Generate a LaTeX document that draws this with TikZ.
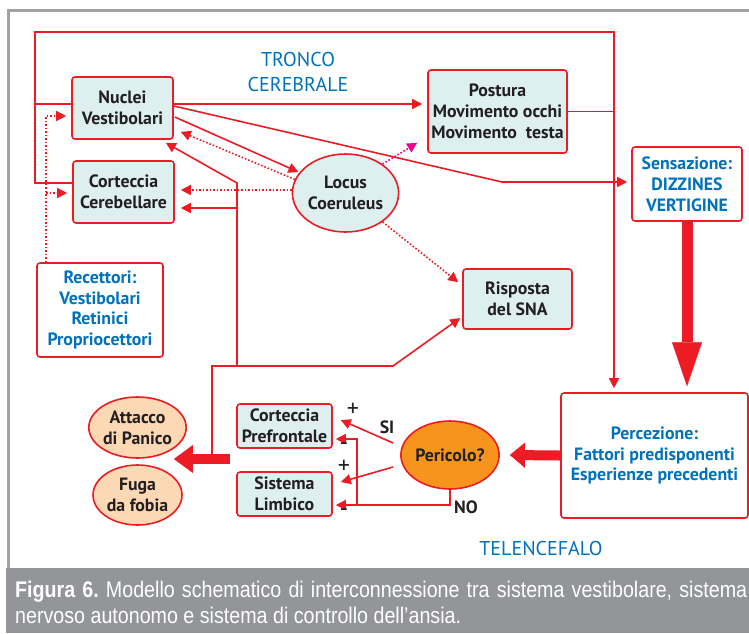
\documentclass[tikz,border=0pt]{standalone}
\usepackage{fontspec}
\setmainfont{PT Sans}
\newfontfamily\capfont{Liberation Sans}[FakeStretch=0.87]
\usetikzlibrary{arrows.meta,shapes.geometric,calc}
\definecolor{linered}{RGB}{237,28,36}
\definecolor{boxfill}{RGB}{221,239,239}
\definecolor{labelblue}{RGB}{0,114,188}
\definecolor{textdark}{RGB}{35,31,32}
\definecolor{dangerorange}{RGB}{247,148,29}
\definecolor{peach}{RGB}{252,216,180}
\definecolor{pinkline}{RGB}{236,0,140}
\definecolor{framegray}{RGB}{160,161,164}
\definecolor{bandgray}{RGB}{147,149,152}

\begin{document}
\frenchspacing
\begin{tikzpicture}[x=1pt,y=-1pt,
  every node/.style={inner sep=0pt, align=center},
  boldtext/.style={font=\fontsize{17.8}{20.8}\selectfont\bfseries},
  box/.style={boldtext, draw=linered, line width=1.6pt, rounded corners=3pt,
    fill=boxfill, text=textdark},
  bluebox/.style={box, fill=white, text=labelblue},
  oval/.style={boldtext, ellipse, draw=linered, line width=1.6pt, text=textdark},
  link/.style={draw=linered, line width=1.6pt},
  dotlink/.style={link, dash pattern=on 1.6pt off 1.9pt},
  arrowto/.style={-{Triangle[length=10pt,width=10pt]}},
  fat/.style={draw=linered, line width=11pt,
    -{Triangle[length=44pt,width=30pt,line width=0.1pt]}},
  fatmid/.style={draw=linered, line width=10pt,
    -{Triangle[length=19pt,width=28pt,line width=0.1pt]}},
  fatsmall/.style={draw=linered, line width=10pt,
    -{Triangle[length=15pt,width=25pt,line width=0.1pt]}},
  region/.style={font=\fontsize{20}{25}\selectfont, text=labelblue},
  sign/.style={font=\fontsize{24}{24}\selectfont, text=textdark},
  captext/.style={anchor=base west, text=white, font=\capfont\fontsize{22.6}{26}\selectfont}
]
\useasboundingbox (0,0) rectangle (749,633);

% page frame and caption band
\fill[bandgray] (6,568) rectangle (760,633);
\draw[framegray, line width=3pt] (8.5,568) -- (8.5,10.8) -- (760,10.8);

% region labels
\node[region] (tronco) at (298,72) {TRONCO\\CEREBRALE};
\node[region] (telen) at (541,548) {TELENCEFALO};

% boxes
\node[box, minimum width=101pt, minimum height=62pt] (nuc) at (122.5,108) {Nuclei\\Vestibolari};
\node[box, minimum width=101pt, minimum height=62pt] (cor) at (123.5,192) {Corteccia\\Cerebellare};
\node[box, minimum width=139pt, minimum height=83pt] (post) at (497.5,111.5) {Postura\\Movimento occhi\\Movimento~ testa};
\node[bluebox, minimum width=110pt, minimum height=74pt] (sens) at (687,184) {Sensazione:\\DIZZINES\\VERTIGINE};
\node[oval, fill=boxfill, minimum width=98pt, minimum height=78pt] (loc) at (345.5,193) {Locus\\Coeruleus};
\node[box, minimum width=109pt, minimum height=60pt] (risp) at (517.5,299) {Risposta\\del SNA};
\node[bluebox, minimum width=126pt, minimum height=94pt] (rec) at (100,310) {Recettori:\\Vestibolari\\Retinici\\Propriocettori};
\node[bluebox, minimum width=187pt, minimum height=125pt] (perc) at (654.5,455.5) {Percezione:\\Fattori predisponenti\\Esperienze precedenti};
\node[oval, fill=dangerorange, minimum width=96pt, minimum height=68pt] (peri) at (450,455) {Pericolo?};
\node[box, minimum width=95pt, minimum height=44pt] (pref) at (284.5,426) {Corteccia\\Prefrontale};
\node[box, minimum width=95pt, minimum height=44pt] (limb) at (284.5,494) {Sistema\\Limbico};
\node[oval, fill=peach, minimum width=89pt, minimum height=61pt] (att) at (137.5,427.5) {Attacco\\di Panico};
\node[oval, fill=peach, minimum width=89pt, minimum height=60pt] (fuga) at (137.5,495) {Fuga\\da fobia};

% brainstem loop towards perception
\coordinate (lpA) at (35,104);
\coordinate (lpB) at (35,32);
\coordinate (lpC) at (614,32);
\coordinate (lpD) at (35,183);
\draw[link, arrowto] (nuc.west |- lpA) -- (lpA) -- (lpB) -- (lpC) -- ($(perc.north -| lpC)+(0,-4)$);
\draw[link] (cor.west |- lpD) -- (lpD) -- (lpA);
\draw[draw=pinkline, line width=1.2pt] (post.east) -- (post.east -| lpC);

% vestibular nuclei outputs
\draw[link, arrowto, shorten >=5pt] (nuc.east |- lpA) -- (post.west |- lpA);
\coordinate (bend) at (502,182);
\draw[link, arrowto] ($(nuc.east)+(0,-2)$) -- (bend) -- ($(sens.west |- bend)+(-4,0)$);
\draw[link, arrowto, shorten >=1pt] ($(nuc.east)+(1,9)$) -- (loc);

% locus coeruleus outputs
\draw[dotlink, arrowto] (loc.165) -- ($(nuc.south east)+(7,-8)$);
\draw[dotlink, arrowto] ($(loc.west)+(0,-3)$) -- ($(cor.east)+(6,-2)$);
\draw[dotlink, draw=pinkline, arrowto] (loc.38) -- ($(post.south west)+(-10,-11)$);
\draw[dotlink, arrowto] (loc.-38) -- ($(risp.north west)+(-4,14)$);

% receptors
\coordinate (rcA) at (46,116);
\coordinate (rcB) at (46,193);
\draw[dotlink, arrowto] (rec.north -| rcA) -- (rcA) -- ($(nuc.west |- rcA)+(-5,0)$);
\draw[dotlink, arrowto] (rcB) -- ($(cor.west |- rcB)+(-5,0)$);

% thick arrows
\draw[fat] (sens.south) -- ($(perc.north -| sens.south)+(0,-6)$);
\draw[fatsmall] (perc.west) -- ($(peri.east)+(10,0)$);
\coordinate (panicsrc) at (230,459);
\draw[fatmid] (panicsrc) -- ($(panicsrc -| att.east)+(-13,0)$);

% feedback of the panic response
\coordinate (fbA) at (212,458);
\coordinate (fbB) at (212,366);
\coordinate (fbC) at (393,366);
\coordinate (fbD) at (237,366);
\coordinate (fbE) at (237,183);
\coordinate (fbF) at (237,208);
\draw[link, arrowto] (fbA) -- (fbB) -- (fbC) -- ($(risp.west)+(-2,19)$);
\draw[link, arrowto] (fbD) -- (fbE) -- ($(nuc.south east)+(-8,3)$);
\draw[link, arrowto] (fbF) -- ($(cor.east |- fbF)+(6,0)$);

% danger decision
\draw[link, arrowto] ($(peri.west)+(-7,-12)$) -- ($(pref.east)+(8,-6)$);
\draw[link, arrowto] ($(peri.west)+(-7,12)$) -- ($(limb.east)+(8,-12)$);
\coordinate (noA) at (450,505);
\coordinate (noB) at (357,505);
\coordinate (noC) at (357,439);
\draw[link, arrowto] (peri.south) -- (noA) -- ($(limb.east |- noA)+(3,0)$);
\draw[link, arrowto] (noB) -- (noC) -- ($(pref.east |- noC)+(3,0)$);

\node[boldtext, text=textdark] (si) at (387,427) {SI};
\node[boldtext, text=textdark] (no) at (466,507) {NO};
\node[sign] (p1) at (353,410) {+};
\node[sign] (m1) at (344,447) {-};
\node[sign] (p2) at (344,467) {+};
\node[sign] (m2) at (344,513) {-};

% caption
\node[captext] (cap1) at (15,597)
  {\makebox[732pt][s]{\textbf{Figura 6.} Modello schematico di interconnessione tra sistema vestibolare, sistema}};
\node[captext] (cap2) at (15,623)
  {nervoso autonomo e sistema di controllo dell’ansia.};
\end{tikzpicture}
\end{document}
